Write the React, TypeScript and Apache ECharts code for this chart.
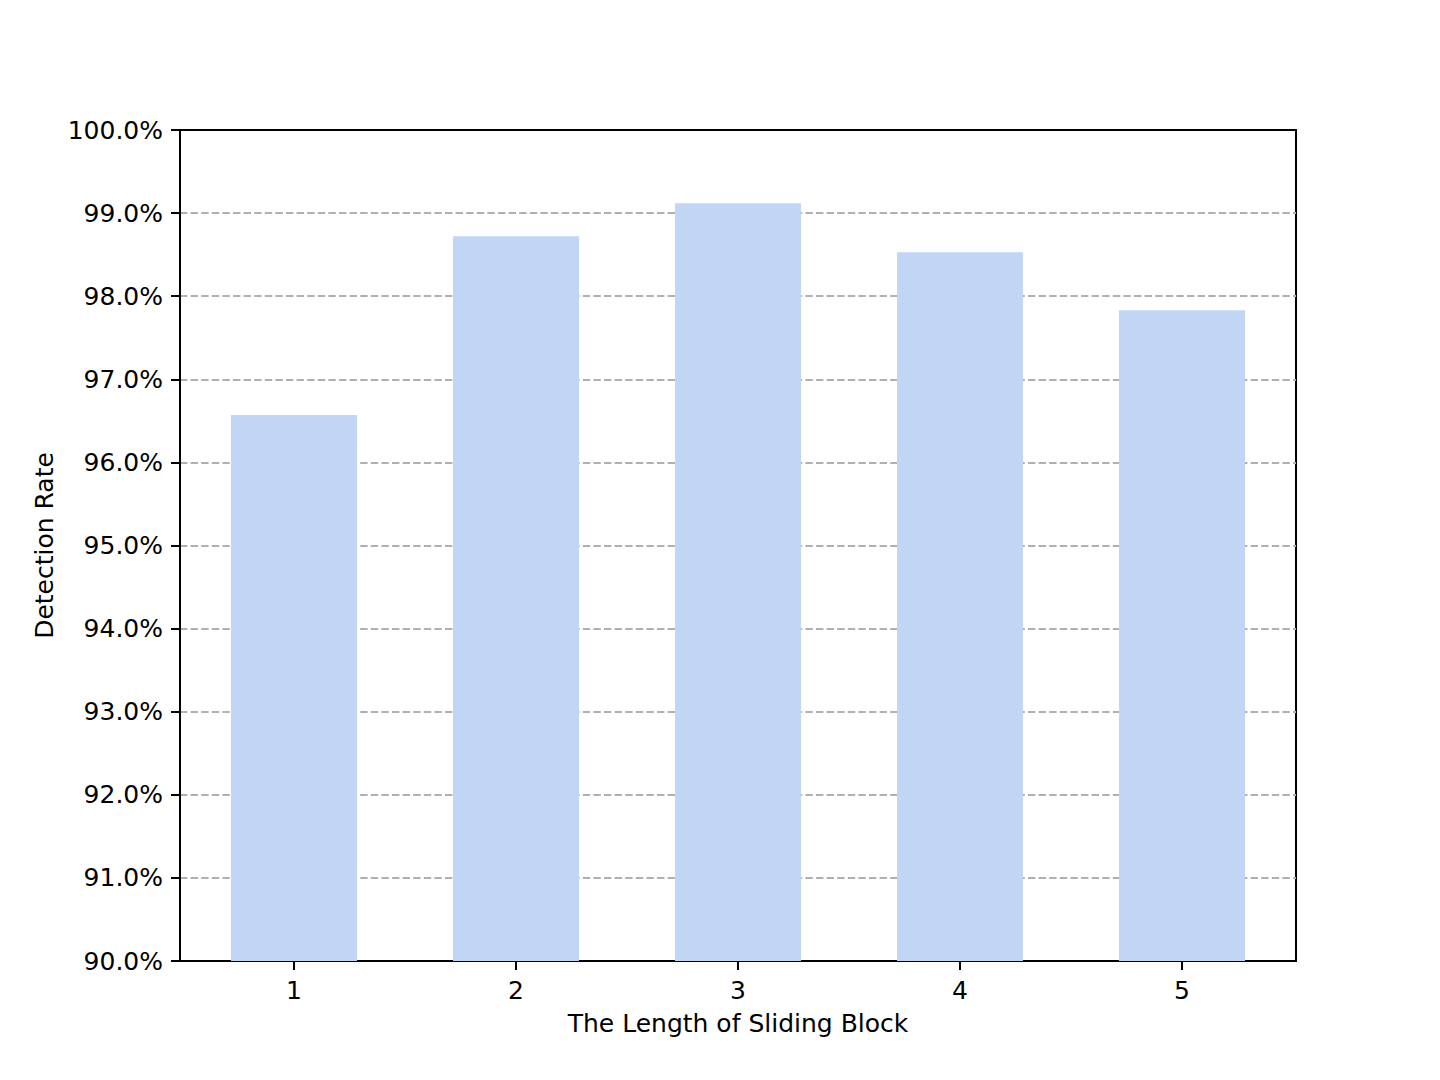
import React, { useEffect, useRef } from "react";
import * as echarts from "echarts";

const categories = [1, 2, 3, 4, 5];
const detectionRate = [96.57, 98.72, 99.12, 98.53, 97.83];
const yTicks = [90, 91, 92, 93, 94, 95, 96, 97, 98, 99, 100];

const FONT = "DejaVu Sans";

export default function App() {
  const ref = useRef<HTMLDivElement>(null);

  useEffect(() => {
    if (!ref.current) return;
    const chart = echarts.init(ref.current, null, { renderer: "svg" });
    chart.setOption({
      animation: false,
      backgroundColor: "#ffffff",
      textStyle: { fontFamily: FONT },
      grid: {
        left: 180,
        right: 144,
        top: 130,
        bottom: 119,
        show: true,
        borderColor: "#000000",
        borderWidth: 2,
        backgroundColor: "transparent",
      },
      xAxis: {
        type: "value",
        min: 0.4865,
        max: 5.5135,
        name: "The Length of Sliding Block",
        nameLocation: "middle",
        nameGap: 50,
        nameTextStyle: { fontFamily: FONT, fontSize: 25, color: "#000" },
        axisLine: { show: true, lineStyle: { color: "#000", width: 2 } },
        axisTick: {
          show: true,
          length: 9,
          lineStyle: { color: "#000", width: 2 },
          customValues: categories,
        },
        axisLabel: {
          fontFamily: FONT,
          fontSize: 25,
          color: "#000",
          margin: 17,
          customValues: categories,
          formatter: (v: number) => String(v),
        },
        splitLine: { show: false },
      },
      yAxis: {
        type: "value",
        min: 90,
        max: 100,
        interval: 1,
        name: "Detection Rate",
        nameLocation: "middle",
        nameGap: 120,
        nameRotate: 90,
        nameTextStyle: { fontFamily: FONT, fontSize: 25, color: "#000" },
        axisLine: { show: true, lineStyle: { color: "#000", width: 2 } },
        axisTick: { show: true, length: 9, lineStyle: { color: "#000", width: 2 } },
        axisLabel: {
          fontFamily: FONT,
          fontSize: 25,
          color: "#000",
          margin: 17,
          formatter: (v: number) => (yTicks.includes(v) ? v.toFixed(1) + "%" : ""),
        },
        splitLine: {
          show: true,
          showMinLine: false,
          showMaxLine: false,
          lineStyle: { color: "#b0b0b0", width: 2, type: [7.4, 3.2] },
        },
      },
      series: [
        {
          type: "bar",
          data: categories.map((c, i) => [c, detectionRate[i]]),
          barWidth: 126,
          itemStyle: { color: "#c1d5f5" },
        },
      ],
    });
    return () => chart.dispose();
  }, []);

  return (
    <div
      ref={ref}
      style={{ position: "fixed", left: 0, top: 0, width: 1440, height: 1080, background: "#fff" }}
    />
  );
}
